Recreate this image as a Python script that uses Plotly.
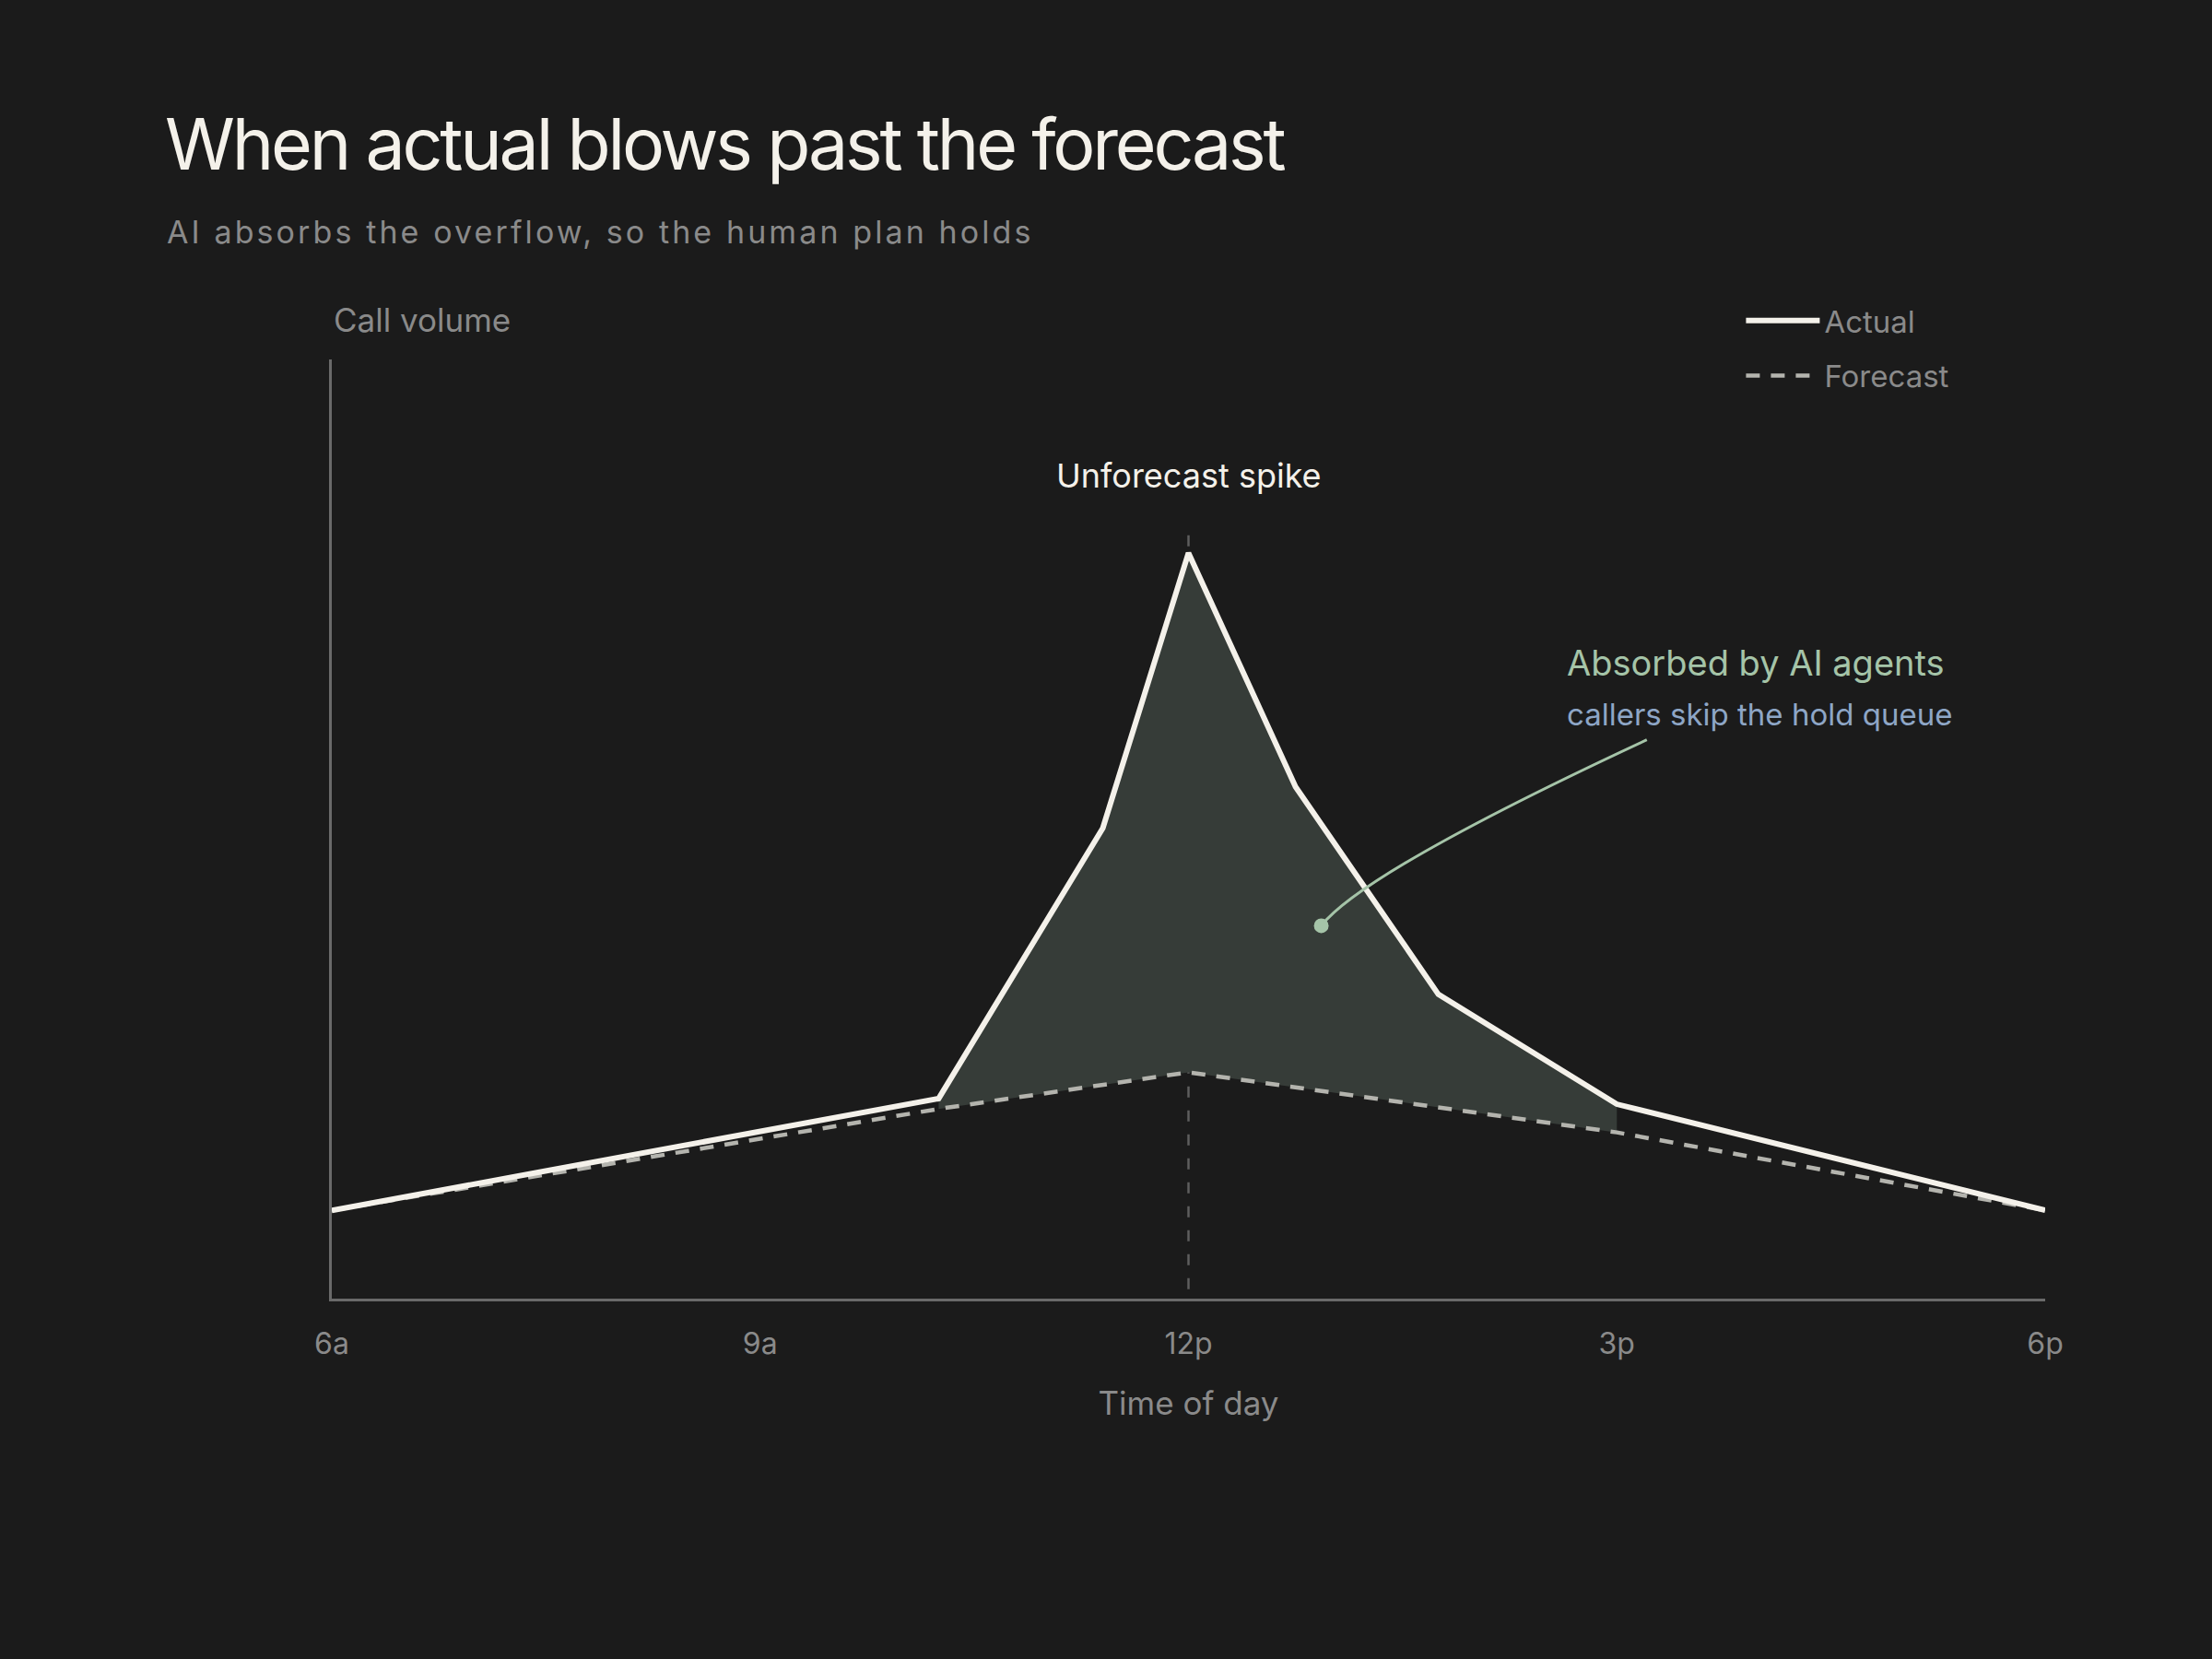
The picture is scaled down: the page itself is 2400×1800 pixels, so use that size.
import plotly.graph_objects as go

# time of day in hours (6 = 6am, 18 = 6pm), volume on a 0-100 scale
actual_hours = [6, 10.25, 11.4, 12, 12.75, 13.75, 15, 18]
actual_volume = [9.4, 21.3, 50.1, 79.4, 54.5, 32.4, 20.7, 9.4]

forecast_hours = [6, 10.25, 12, 15, 18]
forecast_volume = [9.4, 20.2, 24.1, 17.7, 9.4]

# overflow band: actual above forecast, 10:15 to 3pm
band_hours = [10.25, 11.4, 12, 12.75, 13.75, 15]
band_actual = [21.3, 50.1, 79.4, 54.5, 32.4, 20.7]
band_forecast_hours = [10.25, 12, 15]
band_forecast = [20.2, 24.1, 17.7]

tick_hours = [6, 9, 12, 15, 18]
tick_labels = ["6a", "9a", "12p", "3p", "6p"]

spike_hour = 12
spike_line_top = 81.6
spike_label_y = 87.6

# callout: text anchor, curve start, control point, end dot
callout_x = 14.64
callout_title_y = 67.7
callout_sub_y = 62.2
curve_start = (15.21, 59.5)
curve_ctrl = (13.23, 45.5)
curve_end = (12.93, 39.7)

BG = "#1b1b1b"
CREAM = "#f4f1ea"
GRAY = "#8a8a8a"
AXIS = "#6a6a6a"
GREEN = "#a5c4a8"
BLUE = "#8ea6c6"
FONT = "Inter"

fig = go.Figure()

# band fill (forecast base first, then actual fills to it)
fig.add_trace(go.Scatter(x=band_forecast_hours, y=band_forecast, mode="lines",
                         line=dict(width=0), showlegend=False, hoverinfo="skip"))
fig.add_trace(go.Scatter(x=band_hours, y=band_actual, mode="lines",
                         line=dict(width=0), fill="tonexty",
                         fillcolor="#363c38", showlegend=False,
                         hoverinfo="skip"))

fig.add_trace(go.Scatter(x=forecast_hours, y=forecast_volume, mode="lines",
                         name="Forecast", legendrank=2, legendgroup="f",
                         line=dict(color="#b4b4ae", width=4.5,
                                   dash="15px,12px")))
fig.add_trace(go.Scatter(x=actual_hours, y=actual_volume, mode="lines",
                         name="Actual", legendrank=1, legendgroup="a",
                         line=dict(color=CREAM, width=6)))

fig.add_trace(go.Scatter(x=[curve_end[0]], y=[curve_end[1]], mode="markers",
                         marker=dict(color=GREEN, size=16),
                         showlegend=False, hoverinfo="skip"))

fig.add_shape(type="line", xref="x", yref="y", x0=spike_hour, x1=spike_hour,
              y0=1, y1=spike_line_top, layer="below",
              line=dict(color="#5e5e5e", width=2.5, dash="12px,14px"))

fig.add_shape(type="path", xref="x", yref="y",
              path="M {},{} Q {},{} {},{}".format(curve_start[0], curve_start[1],
                                                  curve_ctrl[0], curve_ctrl[1],
                                                  curve_end[0], curve_end[1]),
              line=dict(color=GREEN, width=3))

fig.add_annotation(x=spike_hour, y=spike_label_y, xref="x", yref="y",
                   text="Unforecast spike", showarrow=False,
                   font=dict(family=FONT, size=36, color=CREAM))
fig.add_annotation(x=callout_x, y=callout_title_y, xref="x", yref="y",
                   xanchor="left", text="Absorbed by AI agents",
                   showarrow=False,
                   font=dict(family=FONT, size=38, color=GREEN))
fig.add_annotation(x=callout_x, y=callout_sub_y, xref="x", yref="y",
                   xanchor="left", text="callers skip the hold queue",
                   showarrow=False,
                   font=dict(family=FONT, size=33, color=BLUE))

fig.add_annotation(x=0, y=1.042, xref="paper", yref="paper", xanchor="left",
                   yanchor="middle", text="Call volume", showarrow=False,
                   font=dict(family=FONT, size=35, color=GRAY))
fig.add_annotation(x=-0.0975, y=1.136, xref="paper", yref="paper",
                   xanchor="left", yanchor="middle",
                   text="<span style='letter-spacing:3.1px'>"
                        "AI absorbs the overflow, so the human plan holds"
                        "</span>",
                   showarrow=False,
                   font=dict(family=FONT, size=34, color=GRAY))

fig.update_layout(
    width=2400, height=1800,
    paper_bgcolor=BG, plot_bgcolor=BG,
    margin=dict(l=360, r=181, t=390, b=391),
    font=dict(family=FONT, color=GRAY),
    title=dict(text="<span style='letter-spacing:-3.2px'>"
                    "When actual blows past the forecast</span>",
               x=179 / 2400, xref="container", xanchor="left",
               y=1 - 157 / 1800, yref="container", yanchor="middle",
               font=dict(family=FONT, size=77, color=CREAM)),
    legend=dict(x=0.8227, y=1.069, xanchor="left", yanchor="top",
                bgcolor="rgba(0,0,0,0)", tracegroupgap=14, itemwidth=80,
                font=dict(family=FONT, size=33, color=GRAY)),
    showlegend=True,
)

fig.update_xaxes(range=[6, 18], tickvals=tick_hours, ticktext=tick_labels,
                 showgrid=False, zeroline=False, showline=True,
                 linecolor=AXIS, linewidth=2.5, ticks="",
                 ticklabelstandoff=19,
                 tickfont=dict(family=FONT, size=32, color=GRAY),
                 title=dict(text="Time of day", standoff=35,
                            font=dict(family=FONT, size=35, color=GRAY)))
fig.update_yaxes(range=[0, 100], showgrid=False, zeroline=False,
                 showline=True, linecolor=AXIS, linewidth=2.5,
                 showticklabels=False, ticks="")

# drop the page's default body margin so the figure fills the window
fig.write_html("out.html", config={"displayModeBar": False},
               post_script="document.body.style.margin='0';")
